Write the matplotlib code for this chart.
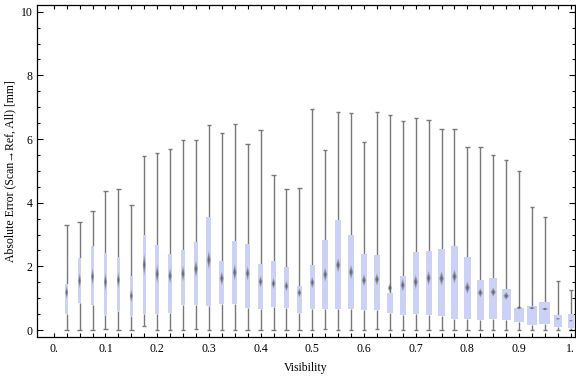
import matplotlib
matplotlib.use("Agg")
import matplotlib.pyplot as plt
from matplotlib.patches import Polygon
import numpy as np

# ---- data ----
visibility = [round(0.025 * k, 3) for k in range(1, 41)]
whisker_lo = [0, 0, 0, 0.03, 0, 0, 0.12, 0, 0, 0,
              0.02, 0, 0, 0, 0, 0, 0, 0, 0, 0,
              0.03, 0, 0, 0, 0.03, 0, 0, 0, 0, 0,
              0, 0, 0, 0, 0, 0, 0, 0, 0, 0]
q1 = [0.51, 0.84, 0.80, 0.48, 0.59, 0.44, 0.51, 0.51, 0.54, 0.80,
      0.80, 0.76, 0.81, 0.81, 0.70, 0.66, 0.73, 0.70, 0.54, 0.66,
      0.66, 0.67, 0.65, 0.63, 0.63, 0.54, 0.48, 0.51, 0.48, 0.45,
      0.35, 0.35, 0.32, 0.36, 0.32, 0.24, 0.17, 0.20, 0.10, 0.07]
median = [1.18, 1.55, 1.68, 1.51, 1.57, 1.07, 2.05, 1.76, 1.70, 1.77,
          1.92, 2.20, 1.62, 1.81, 1.78, 1.52, 1.46, 1.38, 1.17, 1.49,
          1.74, 2.04, 1.82, 1.56, 1.59, 1.32, 1.41, 1.51, 1.63, 1.62,
          1.68, 1.33, 1.17, 1.19, 1.07, 0.70, 0.69, 0.66, 0.35, 0.29]
q3 = [1.445, 2.26, 2.64, 2.41, 2.29, 1.69, 2.98, 2.66, 2.39, 2.51,
      2.76, 3.55, 2.17, 2.80, 2.70, 2.07, 2.17, 1.98, 1.38, 2.04,
      2.83, 3.47, 3.00, 2.39, 2.36, 1.16, 1.70, 2.45, 2.48, 2.54,
      2.64, 2.29, 1.57, 1.63, 1.29, 0.68, 0.75, 0.88, 0.47, 0.50]
whisker_hi = [3.29, 3.38, 3.74, 4.37, 4.42, 3.92, 5.47, 5.55, 5.68, 5.96,
              5.96, 6.44, 6.18, 6.46, 5.83, 6.27, 4.86, 4.42, 4.45, 6.93,
              5.64, 6.84, 6.81, 5.90, 6.84, 6.74, 6.56, 6.65, 6.59, 6.30,
              6.30, 5.74, 5.74, 5.49, 5.33, 4.98, 3.88, 3.54, 1.53, 1.25]
# median confidence (notch) half-height
notch = [0.18, 0.22, 0.24, 0.25, 0.22, 0.18, 0.31, 0.26, 0.22, 0.22,
         0.24, 0.26, 0.20, 0.23, 0.20, 0.17, 0.16, 0.15, 0.13, 0.16,
         0.20, 0.20, 0.20, 0.17, 0.17, 0.13, 0.18, 0.20, 0.20, 0.20,
         0.19, 0.17, 0.13, 0.13, 0.11, 0.05, 0.04, 0.04, 0.025, 0.02]
# relative sample weight (controls box width)
weight = [3, 3, 3, 3.3, 3.3, 3.3, 3.3, 4, 4, 4.3,
          4.7, 5, 5, 5, 5, 5, 5, 5, 5, 5.3,
          5.7, 6, 6, 6, 6, 6, 6, 6, 6, 7,
          7, 7.3, 7.3, 8, 9, 10, 10, 11, 8, 6.3]
xtick_vals = [0.0, 0.1, 0.2, 0.3, 0.4, 0.5, 0.6, 0.7, 0.8, 0.9, 1.0]
xtick_labels = ["0.", "0.1", "0.2", "0.3", "0.4", "0.5", "0.6", "0.7", "0.8", "0.9", "1."]
ytick_vals = [0, 2, 4, 6, 8, 10]

# ---- style ----
serif = ["Liberation Serif", "DejaVu Serif"]
plt.rcParams["font.family"] = serif
box_color = "#cbd2f5"
whisk_color = "#787878"
px = 1.0 / 517.0  # data units per pixel in x
width_scale = px

fig = plt.figure(figsize=(5.76, 3.77), dpi=100)
ax = fig.add_axes([0.0637, 0.1053, 0.9345, 0.8814])
ax.set_xlim(-0.033, 1.008)
ax.set_ylim(-0.229, 10.21)

x = np.array(visibility)
w = np.array(weight) * width_scale

# whiskers
ax.vlines(x, whisker_lo, q1, color=whisk_color, lw=1.0, zorder=1)
ax.vlines(x, q3, whisker_hi, color=whisk_color, lw=1.0, zorder=1)
cap = 2.2 * px
ax.hlines(whisker_lo, x - cap, x + cap, color=whisk_color, lw=1.0, zorder=1)
ax.hlines(whisker_hi, x - cap, x + cap, color=whisk_color, lw=1.0, zorder=1)

# boxes
ax.bar(x, np.array(q3) - np.array(q1), width=w, bottom=q1,
       color=box_color, edgecolor="none", zorder=2)

# median diamonds (soft gradient look)
for xi, m, n, wi in zip(x, median, notch, w):
    hw = 0.24 * wi + 0.8 * px
    nn = n * 1.15
    for s, a in [(1.0, 0.3), (0.7, 0.4), (0.4, 0.6)]:
        poly = Polygon([(xi - hw * s, m), (xi, m + nn * s), (xi + hw * s, m), (xi, m - nn * s)],
                       closed=True, facecolor="#505050", edgecolor="none", alpha=a, zorder=3)
        ax.add_patch(poly)

# ticks
ax.set_xticks(xtick_vals)
ax.set_xticklabels(xtick_labels)
ax.set_xticks(np.arange(0, 1.0001, 0.025), minor=True)
ax.set_yticks(ytick_vals)
ax.set_yticks(np.arange(0, 10.001, 0.5), minor=True)
ax.tick_params(which="both", direction="in", top=True, right=True, width=0.8,
               labelsize=8.5, colors="black")
ax.tick_params(axis="x", which="both", length=3.0, pad=4)
ax.tick_params(axis="y", which="major", length=4.0, pad=3)
ax.tick_params(axis="y", which="minor", length=2.2)
for sp in ax.spines.values():
    sp.set_linewidth(0.9)

ax.set_xlabel("Visibility", fontsize=8.5, labelpad=5)
ax.set_ylabel("Absolute Error (Scan\u2192Ref, All) [mm]", fontsize=8.5, labelpad=3)

fig.savefig("out.png", dpi=100)
